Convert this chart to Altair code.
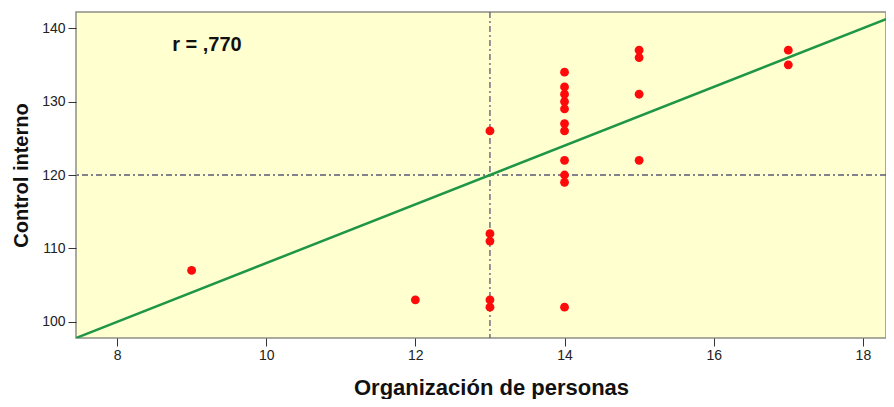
import altair as alt
import pandas as pd

# Data
x_vals = [9, 12, 13, 13, 13, 13, 13,
          14, 14, 14, 14, 14, 14, 14, 14, 14, 14, 14,
          15, 15, 15, 15, 17, 17]
y_vals = [107, 103, 126, 112, 111, 103, 102,
          134, 132, 131, 130, 129, 127, 126, 122, 120, 119, 102,
          137, 136, 131, 122, 137, 135]

fit_intercept = 68.0
fit_slope = 4.0
fit_x = [7.45, 18.31]
ref_x = 13
ref_y = 120
r_label = "r = ,770"

x_domain = [7.45, 18.31]
y_domain = [97.8, 142.2]
x_ticks = [8, 10, 12, 14, 16, 18]
y_ticks = [100, 110, 120, 130, 140]

pts = pd.DataFrame({"x": x_vals, "y": y_vals})
fit = pd.DataFrame({"x": fit_x})
fit["y"] = fit_intercept + fit_slope * fit["x"]

FONT = "Liberation Sans"

xs = alt.Scale(domain=x_domain, nice=False, zero=False)
ys = alt.Scale(domain=y_domain, nice=False, zero=False)

x_axis = alt.Axis(title="Organización de personas", values=x_ticks, format="d", grid=False,
                  domain=False, tickSize=8, tickColor="#333", labelPadding=2,
                  labelFontSize=14, labelColor="#222", labelFont=FONT,
                  titleFont=FONT, titleFontSize=22, titleFontWeight="bold",
                  titleColor="#111", titleX=415, titleY=56, titleBaseline="alphabetic",
                  titleAlign="center")
y_axis = alt.Axis(title="Control interno", values=y_ticks, format="d", grid=False,
                  domain=False, tickSize=8, tickColor="#333", labelPadding=3,
                  labelFontSize=14, labelColor="#222", labelFont=FONT,
                  titleFont=FONT, titleFontSize=20, titleFontWeight="bold",
                  titleColor="#111", titleX=-55, titleY=163, titleAngle=-90,
                  titleBaseline="middle", titleAlign="center")

points = alt.Chart(pts).mark_circle(size=78, color="#FF0A0A", opacity=1).encode(
    x=alt.X("x:Q", scale=xs, axis=x_axis),
    y=alt.Y("y:Q", scale=ys, axis=y_axis),
)

vline = alt.Chart(pd.DataFrame({"x": [ref_x]})).mark_rule(
    color="#5A5A78", strokeWidth=1.3, strokeDash=[6, 3, 2, 3]
).encode(x=alt.X("x:Q", scale=xs))

hline = alt.Chart(pd.DataFrame({"y": [ref_y]})).mark_rule(
    color="#5A5A78", strokeWidth=1.3, strokeDash=[6, 3, 2, 3]
).encode(y=alt.Y("y:Q", scale=ys))

line = alt.Chart(fit).mark_line(color="#1E9646", strokeWidth=2.5, clip=True).encode(
    x=alt.X("x:Q", scale=xs),
    y=alt.Y("y:Q", scale=ys),
)

label = alt.Chart(pd.DataFrame({"x": [8.74], "y": [137.7], "t": [r_label]})).mark_text(
    align="left", baseline="middle", font=FONT, fontSize=20, fontWeight="bold", color="#111"
).encode(x=alt.X("x:Q", scale=xs), y=alt.Y("y:Q", scale=ys), text="t:N")

chart = alt.layer(vline, hline, line, points, label).properties(
    width=810, height=326,
    autosize=alt.AutoSizeParams(type="none"),
    padding={"left": 68, "top": 4, "right": 0, "bottom": 61},
    background="white",
).configure_view(
    fill="#FFFFD0", stroke="#8E8E86", strokeWidth=1.5
)

chart.save("out.html", embed_options={"renderer": "svg", "actions": False})
